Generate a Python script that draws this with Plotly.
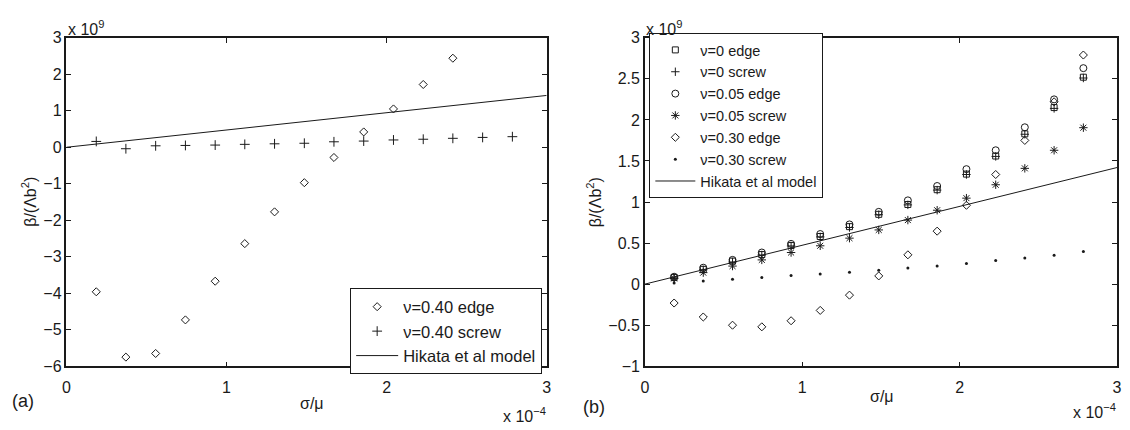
import plotly.graph_objects as go

# sigma/mu positions (units of 1e-4)
x_vals = [0.186, 0.371, 0.557, 0.743, 0.929, 1.114, 1.300, 1.486, 1.671, 1.857,
          2.043, 2.229, 2.414, 2.600, 2.786]

# panel (a): nu = 0.40 (units of 1e9)
a_edge = [-3.96, -5.75, -5.65, -4.73, -3.67, -2.64, -1.77, -0.97, -0.28, 0.42,
          1.05, 1.72, 2.44]
a_screw = [0.16, -0.04, 0.04, 0.05, 0.06, 0.08, 0.095, 0.11, 0.15, 0.17,
           0.20, 0.22, 0.245, 0.27, 0.29]

# panel (b)
b_nu0_edge = [0.08, 0.18, 0.28, 0.36, 0.47, 0.58, 0.70, 0.85, 0.97, 1.15,
              1.34, 1.56, 1.83, 2.15, 2.52]
b_nu0_screw = [0.075, 0.175, 0.27, 0.355, 0.465, 0.575, 0.69, 0.845, 0.965, 1.145,
               1.335, 1.555, 1.825, 2.14, 2.51]
b_nu005_edge = [0.09, 0.20, 0.295, 0.385, 0.49, 0.61, 0.727, 0.88, 1.02, 1.195,
                1.40, 1.63, 1.91, 2.25, 2.63]
b_nu005_screw = [0.07, 0.14, 0.22, 0.295, 0.385, 0.467, 0.56, 0.66, 0.78, 0.90,
                 1.047, 1.21, 1.41, 1.63, 1.905]
b_nu030_edge = [-0.23, -0.40, -0.50, -0.52, -0.446, -0.32, -0.134, 0.10, 0.357, 0.645,
                0.96, 1.335, 1.75, 2.22, 2.79]
b_nu030_screw = [0.014, 0.037, 0.06, 0.08, 0.104, 0.123, 0.146, 0.17, 0.197, 0.22,
                 0.25, 0.287, 0.318, 0.353, 0.396]

# Hikata et al model line
model_x = [0, 3]
model_y = [0, 1.42]

FONT = "Liberation Sans, Arial, Helvetica, sans-serif"
INK = "#1a1a1a"

fig = go.Figure()

def pts(x, y, symbol, size, name, xa, ya, legend, lw=1):
    fig.add_trace(go.Scatter(
        x=x[:len(y)], y=y, mode="markers", name=name, xaxis=xa, yaxis=ya,
        legend=legend,
        marker=dict(symbol=symbol, size=size, color=INK,
                    line=dict(color=INK, width=lw)),
    ))

# panel (a)
pts(x_vals, a_edge, "diamond-open", 6.2, "\u03bd=0.40 edge", "x", "y", "legend")
pts(x_vals, a_screw, "cross-thin-open", 7, "\u03bd=0.40 screw", "x", "y", "legend")
fig.add_trace(go.Scatter(x=model_x, y=model_y, mode="lines", name="Hikata et al model",
                         xaxis="x", yaxis="y", legend="legend",
                         line=dict(color=INK, width=1)))

# panel (b)
pts(x_vals, b_nu0_edge, "square-open", 6, "\u03bd=0 edge", "x2", "y2", "legend2")
pts(x_vals, b_nu0_screw, "cross-thin-open", 6, "\u03bd=0 screw", "x2", "y2", "legend2")
pts(x_vals, b_nu005_edge, "circle-open", 7, "\u03bd=0.05 edge", "x2", "y2", "legend2")
pts(x_vals, b_nu005_screw, "asterisk-open", 7, "\u03bd=0.05 screw", "x2", "y2", "legend2")
pts(x_vals, b_nu030_edge, "diamond-open", 6.2, "\u03bd=0.30 edge", "x2", "y2", "legend2")
pts(x_vals, b_nu030_screw, "circle", 3, "\u03bd=0.30 screw", "x2", "y2", "legend2", lw=0)
fig.add_trace(go.Scatter(x=model_x, y=model_y, mode="lines", name="Hikata et al model",
                         xaxis="x2", yaxis="y2", legend="legend2",
                         line=dict(color=INK, width=1)))

W, H = 1130, 430
L1, R1 = 63 / W, 547 / W
L2, R2 = 646 / W, 1122 / W
B, T = (H - 373) / H, (H - 31) / H

axis_common = dict(showline=True, linecolor=INK, linewidth=1.5, mirror="ticks",
                   ticks="inside", ticklen=5, tickcolor=INK, showgrid=False,
                   zeroline=False, tickfont=dict(family=FONT, size=16, color=INK))

fig.update_layout(
    width=W, height=H, margin=dict(l=0, r=0, t=0, b=0),
    paper_bgcolor="white", plot_bgcolor="white",
    font=dict(family=FONT, color=INK),
    xaxis=dict(domain=[L1, R1], range=[0, 3], tickvals=[0, 1, 2, 3], anchor="y",
               ticklabelstandoff=6, **axis_common),
    yaxis=dict(domain=[B, T], range=[-6, 3], dtick=1, anchor="x", **axis_common),
    xaxis2=dict(domain=[L2, R2], range=[0, 3], tickvals=[0, 1, 2, 3], anchor="y2",
                ticklabelstandoff=6, **axis_common),
    yaxis2=dict(domain=[B, T], range=[-1, 3], dtick=0.5, anchor="x2", **axis_common),
    legend=dict(x=R1 - 0.004, xanchor="right", y=(H - 292) / H, yanchor="top",
                bgcolor="white", bordercolor=INK, borderwidth=1, itemwidth=42,
                font=dict(family=FONT, size=16.5, color=INK), tracegroupgap=0),
    legend2=dict(x=L2 + 0.004, xanchor="left", y=(H - 26) / H, yanchor="top",
                 bgcolor="white", bordercolor=INK, borderwidth=1, itemwidth=40,
                 font=dict(family=FONT, size=14.5, color=INK), tracegroupgap=0),
    showlegend=True,
)

ann_font = dict(family=FONT, size=16, color=INK)
annotations = [
    # exponent labels
    dict(x=63 / W, y=(H - 21) / H, text="x 10<sup>9</sup>", xanchor="left", yanchor="middle"),
    dict(x=645 / W, y=(H - 21) / H, text="x 10<sup>9</sup>", xanchor="left", yanchor="middle"),
    dict(x=548 / W, y=(H - 424) / H, text="x 10<sup>\u22124</sup>", xanchor="right", yanchor="middle"),
    dict(x=1123 / W, y=(H - 420) / H, text="x 10<sup>\u22124</sup>", xanchor="right", yanchor="middle"),
    # axis titles
    dict(x=310 / W, y=(H - 412) / H, text="\u03c3/\u03bc", xanchor="center", yanchor="middle"),
    dict(x=885 / W, y=(H - 405) / H, text="\u03c3/\u03bc", xanchor="center", yanchor="middle"),
    dict(x=25 / W, y=(H - 202) / H, text="\u03b2/(\u039bb<sup>2</sup>)", textangle=-90,
         xanchor="center", yanchor="middle"),
    dict(x=595 / W, y=(H - 202) / H, text="\u03b2/(\u039bb<sup>2</sup>)", textangle=-90,
         xanchor="center", yanchor="middle"),
    # panel tags
    dict(x=6 / W, y=(H - 409) / H, text="(a)", xanchor="left", yanchor="middle",
         font=dict(family=FONT, size=18, color=INK)),
    dict(x=582 / W, y=(H - 415) / H, text="(b)", xanchor="left", yanchor="middle",
         font=dict(family=FONT, size=18, color=INK)),
]
for a in annotations:
    a.setdefault("font", ann_font)
    a.update(xref="paper", yref="paper", showarrow=False)
fig.update_layout(annotations=annotations)

fig.write_html("out.html")
